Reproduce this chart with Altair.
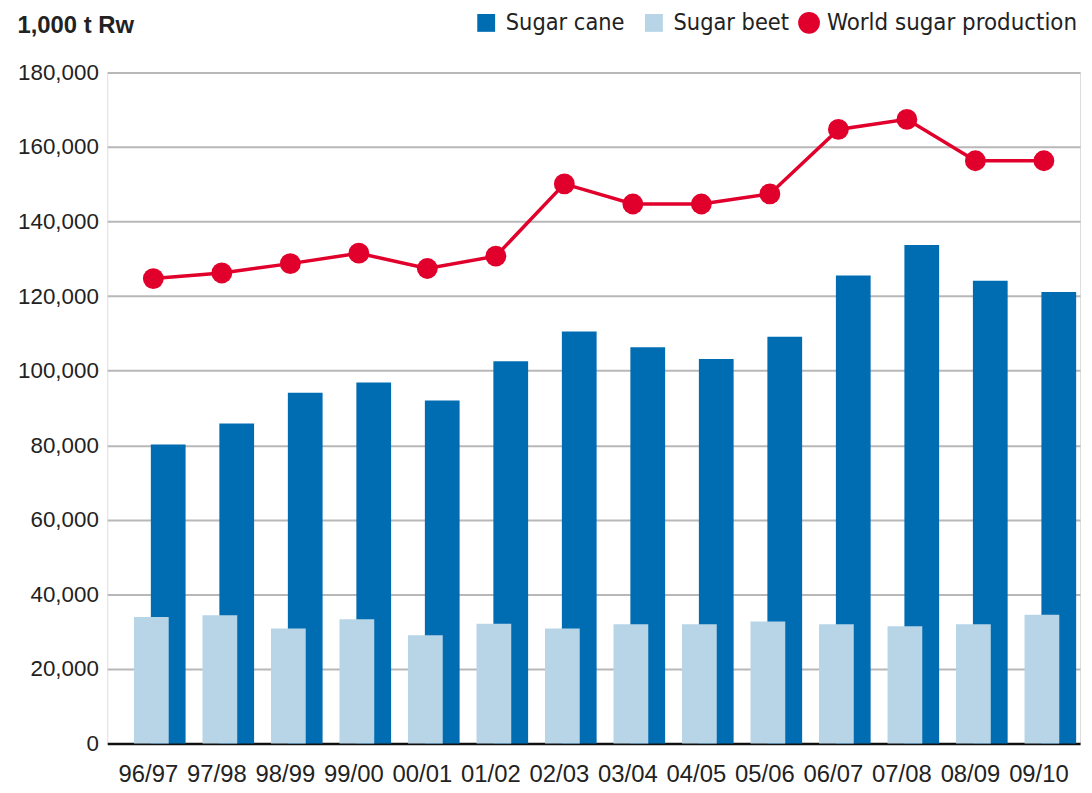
import altair as alt
import pandas as pd

seasons = ["96/97", "97/98", "98/99", "99/00", "00/01", "01/02", "02/03",
           "03/04", "04/05", "05/06", "06/07", "07/08", "08/09", "09/10"]
cane = [80200, 85800, 94100, 96800, 92000, 102500, 110500,
        106300, 103100, 109100, 125500, 133700, 124100, 121100]
beet = [33900, 34400, 30800, 33300, 29000, 32100, 30800,
        32000, 32000, 32700, 32000, 31400, 32000, 34500]
world = [124700, 126200, 128700, 131500, 127400, 130700, 150100,
         144700, 144700, 147400, 164700, 167400, 156300, 156300]

bar_names = ["Sugar cane", "Sugar beet"]
bar_colors = ["#006DB3", "#B8D5E7"]
line_name = "World sugar production"
line_color = "#E0002B"

AXFONT = "Liberation Sans, Arial, Helvetica, sans-serif"
LEGFONT = "DejaVu Sans Condensed, Liberation Sans Narrow, sans-serif"

df_cane = pd.DataFrame({"season": seasons, "value": cane, "series": "Sugar cane"})
df_beet = pd.DataFrame({"season": seasons, "value": beet, "series": "Sugar beet"})
df_world = pd.DataFrame({"season": seasons, "value": world, "series": line_name})

x_enc = alt.X("season:N", sort=seasons,
              scale=alt.Scale(paddingInner=0, paddingOuter=0.1),
              axis=alt.Axis(title=None, labelAngle=0, ticks=False, domain=True,
                            domainColor="#111", domainWidth=2.5,
                            labelFont=AXFONT, labelFontSize=24, labelColor="#222",
                            labelPadding=19, grid=False))
y_scale = alt.Scale(domain=[0, 180000], nice=False)
y_axis = alt.Axis(title="1,000 t Rw", titleAngle=0, titleX=-91, titleY=-40,
                  titleAlign="left", titleBaseline="alphabetic",
                  titleFont=AXFONT, titleFontSize=24, titleFontWeight="bold", titleColor="#222",
                  values=list(range(0, 180001, 20000)), format=",d",
                  labelFont=AXFONT, labelFontSize=22.5, labelColor="#222", labelPadding=9,
                  ticks=False, domain=False, grid=True, gridColor="#b8b8b8", gridWidth=2)

fill_enc = alt.Fill("series:N",
                    scale=alt.Scale(domain=bar_names, range=bar_colors),
                    legend=alt.Legend(
                        orient="none", legendX=370, legendY=-62, direction="horizontal",
                        title=None, labelFont=LEGFONT, labelFontSize=23.5, labelColor="#222",
                        labelLimit=400,
                        symbolType="square", symbolSize=324, symbolStrokeWidth=0,
                        columnPadding=17, labelOffset=8, symbolOpacity=1))

color_enc = alt.Color("series:N",
                      scale=alt.Scale(domain=[line_name], range=[line_color]),
                      legend=alt.Legend(
                          orient="none", legendX=695, legendY=-62, direction="horizontal",
                          title=None, labelFont=LEGFONT, labelFontSize=24, labelColor="#222",
                          labelLimit=400,
                          symbolType="circle", symbolSize=480, symbolStrokeWidth=0,
                          labelOffset=6, symbolOpacity=1))

cane_layer = alt.Chart(df_cane).mark_bar(size=35, xOffset=20).encode(
    x=x_enc, y=alt.Y("value:Q", scale=y_scale, axis=y_axis), fill=fill_enc)
beet_layer = alt.Chart(df_beet).mark_bar(size=35, xOffset=3).encode(
    x=alt.X("season:N", sort=seasons), y=alt.Y("value:Q"), fill=fill_enc)
line_layer = alt.Chart(df_world).mark_line(strokeWidth=3.5, xOffset=5, color=line_color).encode(
    x=alt.X("season:N", sort=seasons), y=alt.Y("value:Q"))
point_layer = alt.Chart(df_world).mark_circle(size=440, opacity=1, xOffset=5).encode(
    x=alt.X("season:N", sort=seasons), y=alt.Y("value:Q"), color=color_enc)

chart = alt.layer(cane_layer, beet_layer, line_layer, point_layer).properties(
    width=980, height=676,
    autosize=alt.AutoSizeParams(type="none"),
    padding={"left": 100, "top": 62, "right": 4, "bottom": 40},
).configure_view(stroke=None).configure(background="white")

chart.save("out.html", embed_options={"renderer": "svg", "actions": False})
